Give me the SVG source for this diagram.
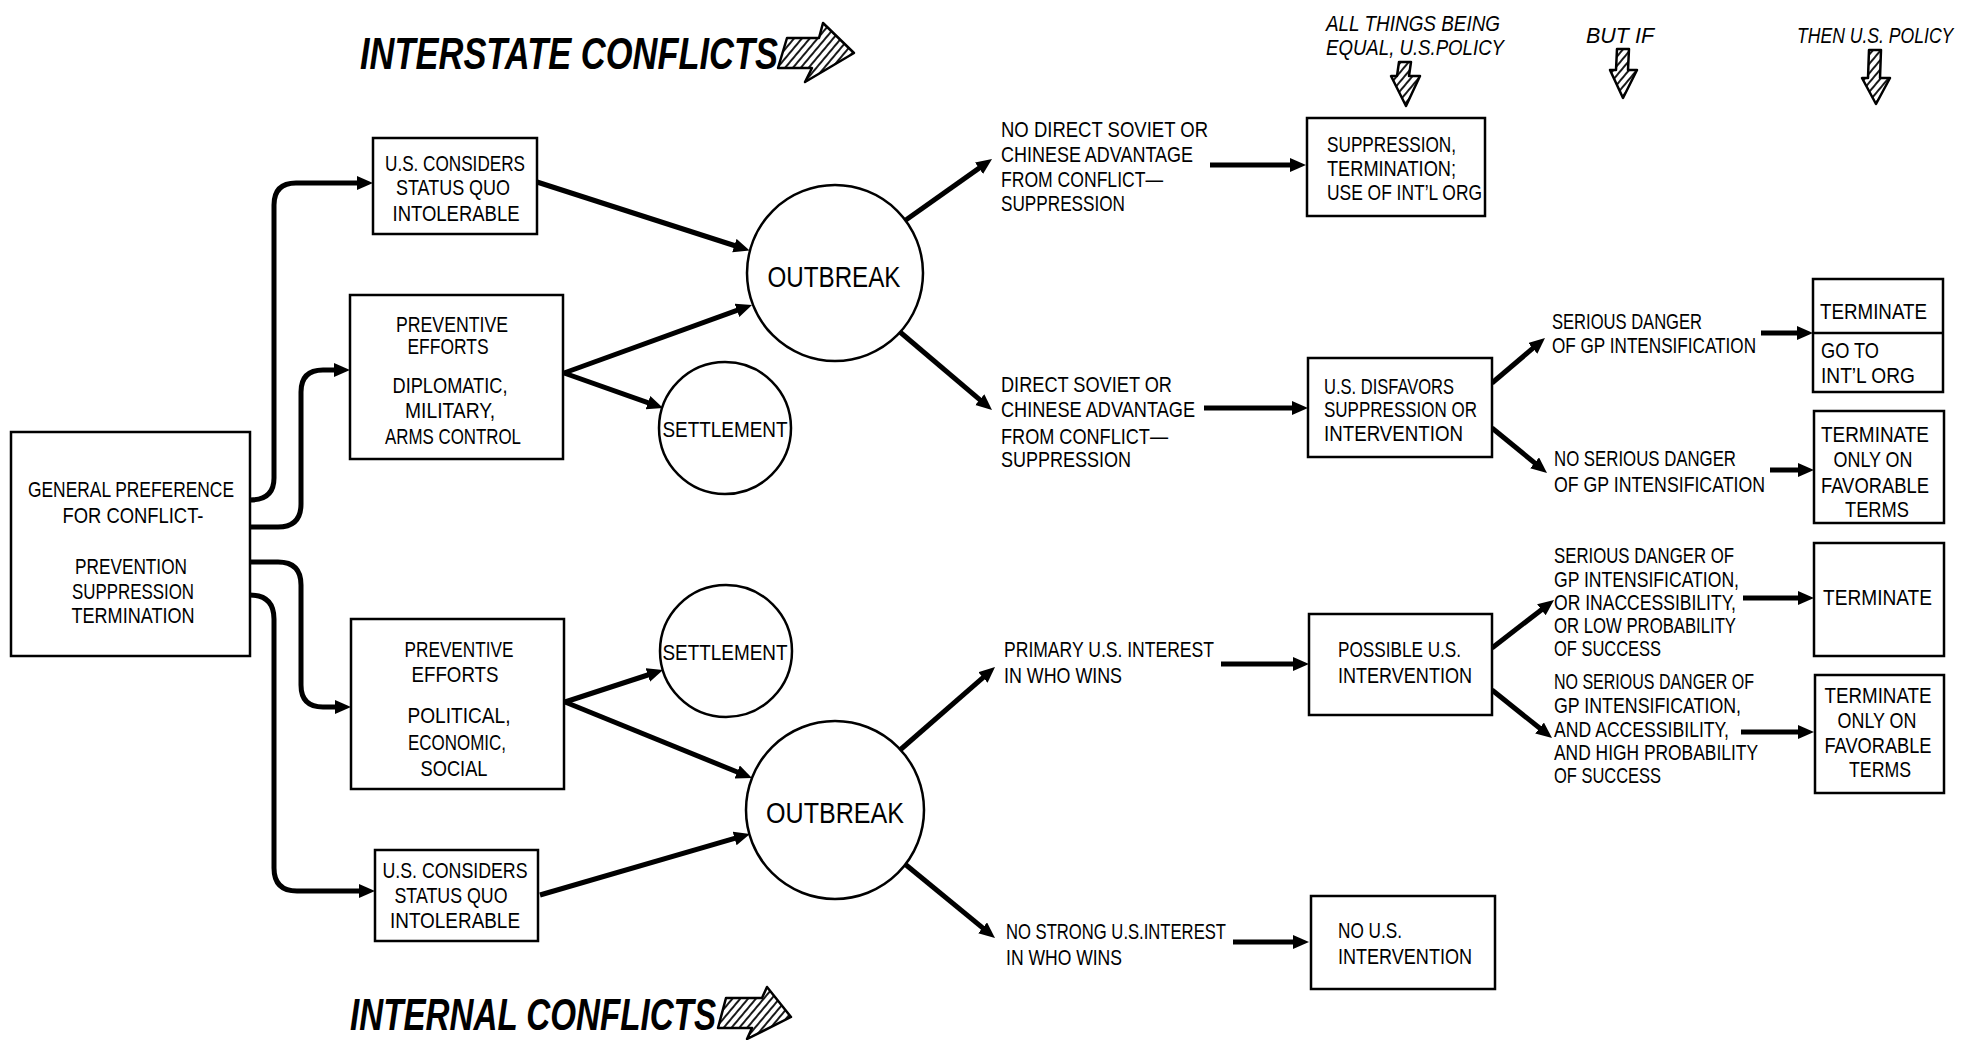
<svg xmlns="http://www.w3.org/2000/svg" width="1970" height="1040" viewBox="0 0 1970 1040">
<style>
.t{font-family:"Liberation Sans",Arial,sans-serif;font-size:22px;fill:#000}
.c{text-anchor:middle}
.ob{font-size:30px}
.hd{font-style:italic;font-size:22px}
.ti{font-style:italic;font-size:45px;font-weight:bold}
.box{fill:#fff;stroke:#000;stroke-width:2.5}
.con{fill:none;stroke:#000;stroke-width:5;marker-end:url(#ah)}
.hatch{fill:url(#hp);stroke:#000;stroke-width:2.5;stroke-linejoin:round}
</style>
<defs>
<marker id="ah" markerUnits="userSpaceOnUse" markerWidth="18" markerHeight="16" refX="8" refY="7" orient="auto"><path d="M0,0 L16,7 L0,14 z" fill="#000"/></marker>
<pattern id="hp" width="6" height="6" patternUnits="userSpaceOnUse" patternTransform="rotate(40)"><rect width="6" height="6" fill="#fff"/><line x1="3" y1="0" x2="3" y2="6" stroke="#000" stroke-width="1.8"/></pattern>
</defs>
<rect width="1970" height="1040" fill="#fff"/>

<g id="titles">
<text class="t ti" x="360" y="69" textLength="418" lengthAdjust="spacingAndGlyphs">INTERSTATE CONFLICTS</text>
<polygon class="hatch" points="787,38 819,38 823,23 854,53 805,82 812,68 778,68"/>
<text class="t ti" x="350" y="1030" textLength="366" lengthAdjust="spacingAndGlyphs">INTERNAL CONFLICTS</text>
<polygon class="hatch" points="726,998 762,998 767,987 791,1017 747,1039 752,1028 718,1028"/>
</g>

<g id="headers">
<text class="t hd" x="1326" y="31" textLength="174" lengthAdjust="spacingAndGlyphs">ALL THINGS BEING</text>
<text class="t hd" x="1326" y="55" textLength="178" lengthAdjust="spacingAndGlyphs">EQUAL, U.S.POLICY</text>
<polygon class="hatch" points="1399,62 1411,62 1409,76 1420,76 1406,106 1391,76 1397,76"/>
<text class="t hd" x="1586" y="43" textLength="68" lengthAdjust="spacingAndGlyphs">BUT IF</text>
<polygon class="hatch" points="1617,49 1629,49 1628,70 1637,70 1623,98 1610,70 1616,70"/>
<text class="t hd" transform="translate(1797,43) scale(0.8,1)">THEN U.S. POLICY</text>
<polygon class="hatch" points="1869,50 1881,50 1880,78 1890,78 1876,104 1862,78 1868,78"/>
</g>

<g id="connectors">
<path class="con" d="M250,500 Q274,500 274,478 V205 Q274,183 296,183 H365"/>
<path class="con" d="M250,527 H278 Q301,527 301,504 V392 Q301,370 323,370 H342"/>
<path class="con" d="M250,562 H278 Q301,562 301,585 V685 Q301,707 323,707 H343"/>
<path class="con" d="M250,595 Q274,595 274,619 V868 Q274,891 297,891 H367"/>
<path class="con" d="M537,182 L742,248"/>
<path class="con" d="M564,373 L744.5,307.7"/>
<path class="con" d="M564,373 L655.5,405.3"/>
<path class="con" d="M565,702 L655.4,672.5"/>
<path class="con" d="M565,702 L744.6,775"/>
<path class="con" d="M540,895 L742.3,836.2"/>
<path class="con" d="M903,222 L985.5,163.6"/>
<path class="con" d="M1210,165 H1298"/>
<path class="con" d="M900,332 L985.9,404.8"/>
<path class="con" d="M1204,408 H1300"/>
<path class="con" d="M1492,383 L1538.9,343.2"/>
<path class="con" d="M1761,333 H1805"/>
<path class="con" d="M1492,428 L1540.8,467.9"/>
<path class="con" d="M1770,470 H1806"/>
<path class="con" d="M900,750 L989,672.3"/>
<path class="con" d="M1221,664 H1301"/>
<path class="con" d="M900,860 L988.8,932.9"/>
<path class="con" d="M1233,942 H1301"/>
<path class="con" d="M1492,648 L1547.7,604.9"/>
<path class="con" d="M1492,690 L1545.8,733"/>
<path class="con" d="M1743,598 H1806"/>
<path class="con" d="M1741,732 H1806"/>
</g>

<g id="general">
<rect class="box" x="11" y="432" width="239" height="224"/>
<text class="t c" x="131" y="497" textLength="206" lengthAdjust="spacingAndGlyphs">GENERAL PREFERENCE</text>
<text class="t c" x="133" y="523" textLength="141" lengthAdjust="spacingAndGlyphs">FOR CONFLICT-</text>
<text class="t c" x="131" y="574" textLength="112" lengthAdjust="spacingAndGlyphs">PREVENTION</text>
<text class="t c" x="133" y="599" textLength="122" lengthAdjust="spacingAndGlyphs">SUPPRESSION</text>
<text class="t c" x="133" y="623" textLength="123" lengthAdjust="spacingAndGlyphs">TERMINATION</text>
</g>

<g id="us-considers-top">
<rect class="box" x="373" y="138" width="164" height="96"/>
<text class="t c" x="455" y="171" textLength="140" lengthAdjust="spacingAndGlyphs">U.S. CONSIDERS</text>
<text class="t c" x="453" y="195" textLength="114" lengthAdjust="spacingAndGlyphs">STATUS QUO</text>
<text class="t c" x="456" y="221" textLength="127" lengthAdjust="spacingAndGlyphs">INTOLERABLE</text>
</g>

<g id="preventive-top">
<rect class="box" x="350" y="295" width="213" height="164"/>
<text class="t c" x="452" y="332" textLength="112" lengthAdjust="spacingAndGlyphs">PREVENTIVE</text>
<text class="t c" x="448" y="354" textLength="81" lengthAdjust="spacingAndGlyphs">EFFORTS</text>
<text class="t c" x="450" y="393" textLength="115" lengthAdjust="spacingAndGlyphs">DIPLOMATIC,</text>
<text class="t c" x="450" y="418" textLength="90" lengthAdjust="spacingAndGlyphs">MILITARY,</text>
<text class="t c" x="453" y="444" textLength="136" lengthAdjust="spacingAndGlyphs">ARMS CONTROL</text>
</g>

<g id="preventive-bottom">
<rect class="box" x="351" y="619" width="213" height="170"/>
<text class="t c" x="459" y="657" textLength="109" lengthAdjust="spacingAndGlyphs">PREVENTIVE</text>
<text class="t c" x="455" y="682" textLength="87" lengthAdjust="spacingAndGlyphs">EFFORTS</text>
<text class="t c" x="459" y="723" textLength="103" lengthAdjust="spacingAndGlyphs">POLITICAL,</text>
<text class="t c" x="457" y="750" textLength="98" lengthAdjust="spacingAndGlyphs">ECONOMIC,</text>
<text class="t c" x="454" y="776" textLength="67" lengthAdjust="spacingAndGlyphs">SOCIAL</text>
</g>

<g id="us-considers-bottom">
<rect class="box" x="375" y="850" width="163" height="91"/>
<text class="t c" x="455" y="878" textLength="145" lengthAdjust="spacingAndGlyphs">U.S. CONSIDERS</text>
<text class="t c" x="451" y="903" textLength="113" lengthAdjust="spacingAndGlyphs">STATUS QUO</text>
<text class="t c" x="455" y="928" textLength="130" lengthAdjust="spacingAndGlyphs">INTOLERABLE</text>
</g>

<g id="settlement-top">
<circle class="box" cx="725" cy="428" r="66"/>
<text class="t c" x="725" y="437" textLength="125" lengthAdjust="spacingAndGlyphs">SETTLEMENT</text>
</g>
<g id="settlement-bottom">
<circle class="box" cx="726" cy="651" r="66"/>
<text class="t c" x="725" y="660" textLength="125" lengthAdjust="spacingAndGlyphs">SETTLEMENT</text>
</g>
<g id="outbreak-top">
<circle class="box" cx="835" cy="273" r="88"/>
<text class="t c ob" x="834" y="287" textLength="133" lengthAdjust="spacingAndGlyphs">OUTBREAK</text>
</g>
<g id="outbreak-bottom">
<circle class="box" cx="835" cy="810" r="89"/>
<text class="t c ob" x="835" y="823" textLength="138" lengthAdjust="spacingAndGlyphs">OUTBREAK</text>
</g>

<g id="no-direct-advantage">
<text class="t" x="1001" y="137" textLength="207" lengthAdjust="spacingAndGlyphs">NO DIRECT SOVIET OR</text>
<text class="t" x="1001" y="162" textLength="192" lengthAdjust="spacingAndGlyphs">CHINESE ADVANTAGE</text>
<text class="t" x="1001" y="187" textLength="162" lengthAdjust="spacingAndGlyphs">FROM CONFLICT—</text>
<text class="t" x="1001" y="211" textLength="124" lengthAdjust="spacingAndGlyphs">SUPPRESSION</text>
</g>
<g id="suppression-termination">
<rect class="box" x="1307" y="118" width="178" height="98"/>
<text class="t" x="1327" y="152" textLength="129" lengthAdjust="spacingAndGlyphs">SUPPRESSION,</text>
<text class="t" x="1327" y="176" textLength="129" lengthAdjust="spacingAndGlyphs">TERMINATION;</text>
<text class="t" x="1327" y="200" textLength="155" lengthAdjust="spacingAndGlyphs">USE OF INT’L ORG</text>
</g>

<g id="direct-advantage">
<text class="t" x="1001" y="392" textLength="171" lengthAdjust="spacingAndGlyphs">DIRECT SOVIET OR</text>
<text class="t" x="1001" y="417" textLength="194" lengthAdjust="spacingAndGlyphs">CHINESE ADVANTAGE</text>
<text class="t" x="1001" y="444" textLength="167" lengthAdjust="spacingAndGlyphs">FROM CONFLICT—</text>
<text class="t" x="1001" y="467" textLength="130" lengthAdjust="spacingAndGlyphs">SUPPRESSION</text>
</g>
<g id="us-disfavors">
<rect class="box" x="1308" y="358" width="184" height="99"/>
<text class="t" x="1324" y="394" textLength="130" lengthAdjust="spacingAndGlyphs">U.S. DISFAVORS</text>
<text class="t" x="1324" y="417" textLength="153" lengthAdjust="spacingAndGlyphs">SUPPRESSION OR</text>
<text class="t" x="1324" y="441" textLength="139" lengthAdjust="spacingAndGlyphs">INTERVENTION</text>
</g>
<g id="serious-danger-1">
<text class="t" x="1552" y="329" textLength="150" lengthAdjust="spacingAndGlyphs">SERIOUS DANGER</text>
<text class="t" x="1552" y="353" textLength="204" lengthAdjust="spacingAndGlyphs">OF GP INTENSIFICATION</text>
</g>
<g id="terminate-go-to">
<rect class="box" x="1813" y="279" width="130" height="113"/>
<line x1="1813" y1="333" x2="1943" y2="333" stroke="#000" stroke-width="2.5"/>
<text class="t" x="1820" y="319" textLength="107" lengthAdjust="spacingAndGlyphs">TERMINATE</text>
<text class="t" x="1821" y="358" textLength="58" lengthAdjust="spacingAndGlyphs">GO TO</text>
<text class="t" x="1821" y="383" textLength="94" lengthAdjust="spacingAndGlyphs">INT’L ORG</text>
</g>
<g id="no-serious-danger-1">
<text class="t" x="1554" y="466" textLength="182" lengthAdjust="spacingAndGlyphs">NO SERIOUS DANGER</text>
<text class="t" x="1554" y="492" textLength="211" lengthAdjust="spacingAndGlyphs">OF GP INTENSIFICATION</text>
</g>
<g id="terminate-favorable-1">
<rect class="box" x="1814" y="411" width="130" height="112"/>
<text class="t c" x="1875" y="442" textLength="108" lengthAdjust="spacingAndGlyphs">TERMINATE</text>
<text class="t c" x="1873" y="467" textLength="79" lengthAdjust="spacingAndGlyphs">ONLY ON</text>
<text class="t c" x="1875" y="493" textLength="108" lengthAdjust="spacingAndGlyphs">FAVORABLE</text>
<text class="t c" x="1877" y="517" textLength="64" lengthAdjust="spacingAndGlyphs">TERMS</text>
</g>

<g id="primary-interest">
<text class="t" x="1004" y="657" textLength="210" lengthAdjust="spacingAndGlyphs">PRIMARY U.S. INTEREST</text>
<text class="t" x="1004" y="683" textLength="118" lengthAdjust="spacingAndGlyphs">IN WHO WINS</text>
</g>
<g id="possible-intervention">
<rect class="box" x="1309" y="614" width="183" height="101"/>
<text class="t" x="1338" y="657" textLength="123" lengthAdjust="spacingAndGlyphs">POSSIBLE U.S.</text>
<text class="t" x="1338" y="683" textLength="134" lengthAdjust="spacingAndGlyphs">INTERVENTION</text>
</g>
<g id="serious-danger-2">
<text class="t" x="1554" y="563" textLength="180" lengthAdjust="spacingAndGlyphs">SERIOUS DANGER OF</text>
<text class="t" x="1554" y="587" textLength="185" lengthAdjust="spacingAndGlyphs">GP INTENSIFICATION,</text>
<text class="t" x="1554" y="610" textLength="182" lengthAdjust="spacingAndGlyphs">OR INACCESSIBILITY,</text>
<text class="t" x="1554" y="633" textLength="182" lengthAdjust="spacingAndGlyphs">OR LOW PROBABILITY</text>
<text class="t" x="1554" y="656" textLength="107" lengthAdjust="spacingAndGlyphs">OF SUCCESS</text>
</g>
<g id="terminate-2">
<rect class="box" x="1814" y="543" width="130" height="113"/>
<text class="t" x="1823" y="605" textLength="109" lengthAdjust="spacingAndGlyphs">TERMINATE</text>
</g>
<g id="no-serious-danger-2">
<text class="t" x="1554" y="689" textLength="200" lengthAdjust="spacingAndGlyphs">NO SERIOUS DANGER OF</text>
<text class="t" x="1554" y="713" textLength="187" lengthAdjust="spacingAndGlyphs">GP INTENSIFICATION,</text>
<text class="t" x="1554" y="737" textLength="175" lengthAdjust="spacingAndGlyphs">AND ACCESSIBILITY,</text>
<text class="t" x="1554" y="760" textLength="204" lengthAdjust="spacingAndGlyphs">AND HIGH PROBABILITY</text>
<text class="t" x="1554" y="783" textLength="107" lengthAdjust="spacingAndGlyphs">OF SUCCESS</text>
</g>
<g id="terminate-favorable-2">
<rect class="box" x="1815" y="675" width="129" height="118"/>
<text class="t c" x="1878" y="703" textLength="107" lengthAdjust="spacingAndGlyphs">TERMINATE</text>
<text class="t c" x="1877" y="728" textLength="79" lengthAdjust="spacingAndGlyphs">ONLY ON</text>
<text class="t c" x="1878" y="753" textLength="107" lengthAdjust="spacingAndGlyphs">FAVORABLE</text>
<text class="t c" x="1880" y="777" textLength="62" lengthAdjust="spacingAndGlyphs">TERMS</text>
</g>

<g id="no-strong-interest">
<text class="t" x="1006" y="939" textLength="220" lengthAdjust="spacingAndGlyphs">NO STRONG U.S.INTEREST</text>
<text class="t" x="1006" y="965" textLength="116" lengthAdjust="spacingAndGlyphs">IN WHO WINS</text>
</g>
<g id="no-intervention">
<rect class="box" x="1311" y="896" width="184" height="93"/>
<text class="t" x="1338" y="938" textLength="64" lengthAdjust="spacingAndGlyphs">NO U.S.</text>
<text class="t" x="1338" y="964" textLength="134" lengthAdjust="spacingAndGlyphs">INTERVENTION</text>
</g>
</svg>
